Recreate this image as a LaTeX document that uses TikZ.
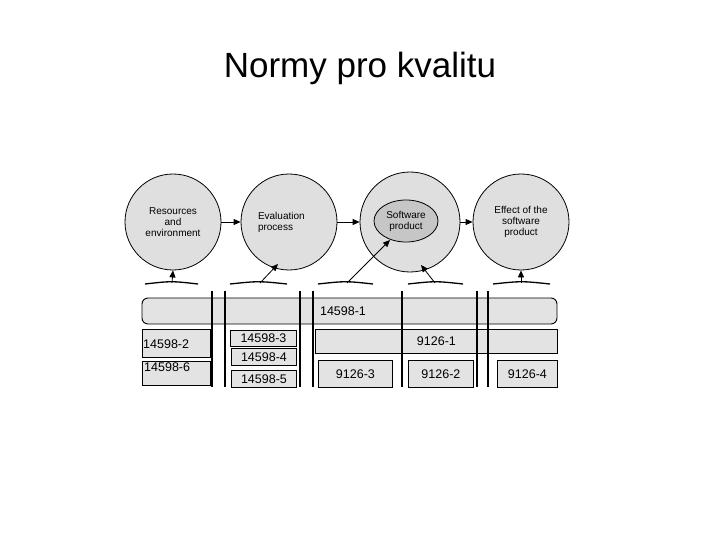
\documentclass[tikz,border=0pt]{standalone}
\usepackage{fontspec}
\setmainfont{Liberation Sans}
\usetikzlibrary{arrows.meta,shapes.geometric}
\begin{document}
\begin{tikzpicture}[x=1pt,y=-1pt,
  circ/.style={circle,draw=black,line width=0.8pt,fill=gray!25,minimum size=96pt,inner sep=0pt,align=center,font=\fontsize{10}{11}\selectfont},
  bx/.style={draw=black,line width=0.9pt,fill=gray!22,inner sep=0pt,anchor=north west,font=\fontsize{12.5}{13}\selectfont},
  arr/.style={-{Triangle[length=7pt,width=6pt]},line width=0.8pt},
  vl/.style={line width=1.4pt}]
\useasboundingbox[fill=white] (0,0) rectangle (720,540);
\node[font=\fontsize{35}{38}\selectfont] (title) at (360,68) {Normy pro kvalitu};
\node[circ] (c1) at (173,222) {Resources\\and\\environment};
\node[circ,text width=62pt,align=left] (c2) at (289,222) {Evaluation\\process\\[14pt]};
\node[circ,minimum size=100pt] (c3) at (410,222) {};
\node[ellipse,draw=black,line width=0.8pt,fill=gray!45,minimum width=64pt,minimum height=42pt,inner sep=0pt,align=center,font=\fontsize{10}{11}\selectfont] (sp) at (406,221) {Software\\product};
\node[circ] (c4) at (521,222) {Effect of the\\software\\product};
\draw[arr] (c1) -- (c2);
\draw[arr] (c2) -- (c3);
\draw[arr] (c3) -- (c4);
% ground lines
\foreach \a/\b/\n in {145/198/1,230/287/2,318/373/3,408/463/4,493/550/5}{
  \draw[line width=1.3pt] (\a,284) .. controls ({(\a+\b)/2},281) .. (\b,284);
  \coordinate (g\n) at ({(\a+\b)/2},283);}
\draw[arr] (172,283) -- (c1.south);
\draw[arr] (260,283) -- (278,264);
\draw[arr] (347,283) -- (390,240);
\draw[arr] (435,283) -- (421,265);
\draw[arr] (521,283) -- (c4.south);
% table
\draw[line width=0.9pt,fill=gray!22,rounded corners=6pt] (142,298) rectangle (557,324);
\node[font=\fontsize{12.5}{13}\selectfont] (t1) at (343,311) {14598-1};
\node[bx,minimum width=68pt,minimum height=28pt] (b2) at (142,329) {};
\node[anchor=west,font=\fontsize{12.5}{13}\selectfont,inner sep=1pt] at ([yshift=-1pt]b2.west) {14598-2};
\node[bx,minimum width=68pt,minimum height=24pt] (b6) at (142,361) {};
\node[anchor=north west,font=\fontsize{12.5}{13}\selectfont,inner sep=2pt] at (b6.north west) {14598-6};
\node[bx,minimum width=66pt,minimum height=16pt] (b3) at (230,330) {14598-3};
\node[bx,minimum width=65pt,minimum height=17pt] (b4) at (231,348) {14598-4};
\node[bx,minimum width=65pt,minimum height=17pt] (b5) at (231,370) {14598-5};
\node[bx,minimum width=242pt,minimum height=24pt] (n1) at (315,329) {9126-1};
\node[bx,minimum width=74pt,minimum height=27pt] (n3) at (318,360) {9126-3};
\node[bx,minimum width=65pt,minimum height=27pt] (n2) at (408,360) {9126-2};
\node[bx,minimum width=60pt,minimum height=27pt] (n4) at (497,360) {9126-4};
\foreach \x in {212,225,300,313,402,477,488}{\draw[vl] (\x,291) -- (\x,387);}
\end{tikzpicture}
\end{document}
